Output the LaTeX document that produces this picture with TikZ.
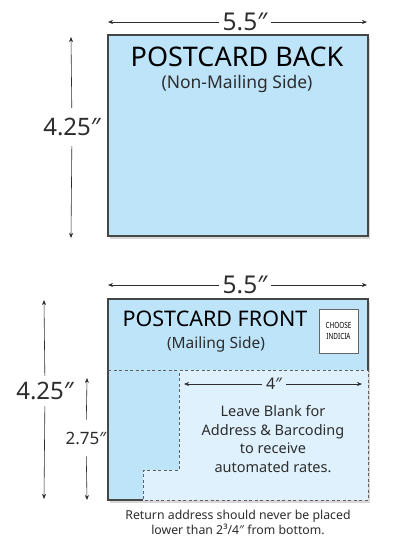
\documentclass[tikz,border=0pt]{standalone}
\usepackage{fontspec}
\setmainfont{Noto Sans}
\usetikzlibrary{positioning, arrows.meta, shadows}
\usepackage{xcolor}
\definecolor{cardC}{RGB}{190, 228, 250}
\definecolor{zoneC}{RGB}{222, 241, 252}
\definecolor{edgeC}{RGB}{70, 70, 70}
\definecolor{inkC}{RGB}{45, 45, 45}

\tikzset{
  card/.style={fill=cardC, drop shadow={shadow xshift=1.5pt, shadow yshift=-2.5pt, opacity=0.3}},
  cardedge/.style={edgeC, line width=1.2pt},
  zoneline/.style={gray!75!black, line width=0.9pt, dash pattern=on 3pt off 2.5pt},
  dimline/.style={inkC, line width=0.6pt, -{Stealth[length=5pt, width=4pt]}},
  dimlbl/.style={inkC, inner xsep=4pt},
}

\begin{document}
\begin{tikzpicture}[x=1pt, y=-1pt]
  \path[use as bounding box, fill=white] (0,0) rectangle (414,550);

  % ── Back side (non-mailing) ─────────────────────────────────────
  \fill[card] (108,35) rectangle (368,236);
  \draw[cardedge] (108,35) rectangle (368,236);
  \node[font=\fontsize{27}{30}\selectfont] (backT) at (237,57) {POSTCARD BACK};
  \node[font=\fontsize{17.5}{20}\selectfont, inkC] (backS) at (237,84) {(Non-Mailing Side)};

  % width 5.5
  \coordinate (bwL) at (108,22);
  \coordinate (bwR) at (367,22);
  \node[dimlbl, font=\fontsize{24.5}{28}\selectfont] (bwT) at (245,22) {5.5″};
  \draw[dimline] (bwT) -- (bwL);
  \draw[dimline] (bwT) -- (bwR);

  % height 4.25
  \coordinate (bhT) at (71,37);
  \coordinate (bhB) at (71,238);
  \node[dimlbl, inner ysep=10pt, font=\fontsize{24}{28}\selectfont] (bhL) at (72,127) {4.25″};
  \draw[dimline] (bhL) -- (bhT);
  \draw[dimline] (bhL) -- (bhB);

  % ── Front side (mailing) ────────────────────────────────────────
  \fill[card] (108,299) rectangle (368,500);
  \fill[zoneC] (179,370) -- (368,370) -- (368,500) -- (143,500)
               -- (143,470) -- (179,470) -- cycle;
  \draw[cardedge] (143,500) -- (108,500) -- (108,299) -- (368,299) -- (368,370);
  \draw[zoneline] (108,370) -- (368,370) -- (368,500) -- (143,500)
                  -- (143,470) -- (179,470) -- (179,370);

  \node[font=\fontsize{21.5}{24}\selectfont] (frontT) at (215,319) {POSTCARD FRONT};
  \node[font=\fontsize{15.5}{18}\selectfont, inkC] (frontS) at (216,344) {(Mailing Side)};

  % indicia box
  \node[draw=gray!80!black, fill=white, line width=0.7pt, minimum width=39pt,
        minimum height=44pt, inner sep=0pt, align=center,
        font=\fontsize{8.5}{10.5}\selectfont] (indicia) at (338.5,331)
        {\scalebox{0.75}[1]{CHOOSE}\\\scalebox{0.75}[1]{INDICIA}};

  % width 5.5
  \coordinate (fwL) at (108,285);
  \coordinate (fwR) at (367,285);
  \node[dimlbl, font=\fontsize{24.5}{28}\selectfont] (fwT) at (245,285) {5.5″};
  \draw[dimline] (fwT) -- (fwL);
  \draw[dimline] (fwT) -- (fwR);

  % height 4.25
  \coordinate (fhT) at (44,300);
  \coordinate (fhB) at (44,499);
  \node[dimlbl, inner ysep=6pt, font=\fontsize{24}{28}\selectfont] (fhL) at (45,391) {4.25″};
  \draw[dimline] (fhL) -- (fhT);
  \draw[dimline] (fhL) -- (fhB);

  % height 2.75
  \coordinate (fsT) at (87,378);
  \coordinate (fsB) at (87,500);
  \node[dimlbl, inner ysep=12pt, font=\fontsize{17}{20}\selectfont] (fsL) at (86,438) {2.75″};
  \draw[dimline] (fsL) -- (fsT);
  \draw[dimline] (fsL) -- (fsB);

  % address zone width 4
  \coordinate (awL) at (184,384);
  \coordinate (awR) at (362,384);
  \node[dimlbl, font=\fontsize{16}{18}\selectfont] (awT) at (274,384) {4″};
  \draw[dimline] (awT) -- (awL);
  \draw[dimline] (awT) -- (awR);

  \node[inkC, align=center, font=\fontsize{14.5}{18.7}\selectfont] (zoneTxt) at (273,439)
        {Leave Blank for\\Address \& Barcoding\\to receive\\automated rates.};

  % ── Return address note ─────────────────────────────────────────
  \node[inkC, align=center, font=\fontsize{12.3}{15}\selectfont] (note) at (238,522)
        {Return address should never be placed\\lower than 2³/4″ from bottom.};
\end{tikzpicture}
\end{document}
